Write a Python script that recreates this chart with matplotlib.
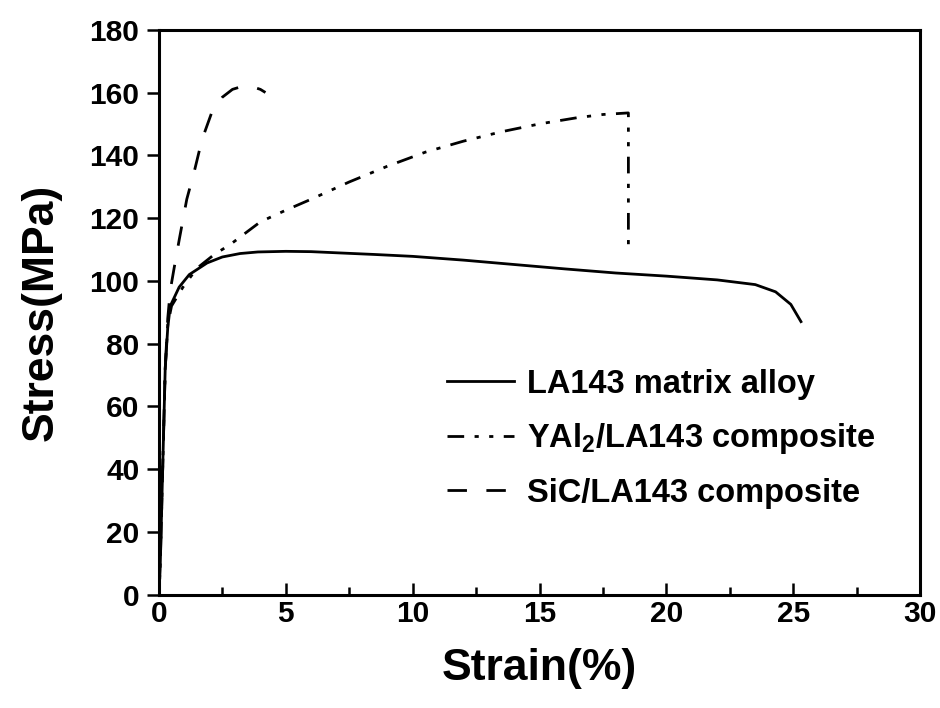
import matplotlib
matplotlib.use("Agg")
import matplotlib.pyplot as plt

# ---- data ----
la_strain = [0, 0.05, 0.15, 0.25, 0.35, 0.45, 0.8, 1.2, 1.9, 2.5, 3.2, 3.9, 5.0, 6.0, 7.1, 8.5,
             10.0, 12.0, 14.0, 16.0, 18.0, 20.0, 22.0, 23.5, 24.3, 24.9, 25.3]
la_stress = [0, 8, 40, 72, 85, 92, 98, 102, 105.7, 107.6, 108.7, 109.2, 109.4, 109.3, 108.9, 108.4,
             107.8, 106.6, 105.2, 103.8, 102.5, 101.5, 100.3, 98.8, 96.5, 92.5, 87]

yal_strain = [0, 0.05, 0.15, 0.25, 0.35, 0.5, 0.95, 1.5, 2.2, 2.8, 4.0, 5.0, 6.0, 7.5, 9.0, 10.5,
              12.0, 13.5, 15.0, 16.5, 17.5, 18.5, 18.5]
yal_stress = [0, 8, 40, 72, 86, 92, 98, 104, 108.5, 111.5, 118.8, 122.5, 126, 131.5, 136.5, 141,
              144.5, 147.5, 150, 152, 153, 153.5, 111]

sic_strain = [0, 0.05, 0.15, 0.25, 0.35, 0.45, 0.6, 0.8, 1.1, 1.4, 1.7, 2.1, 2.5, 2.9, 3.3, 3.7, 4.0, 4.2]
sic_stress = [0, 8, 40, 72, 88, 97, 104, 113, 126, 135, 145, 154, 158.5, 161, 162, 161.8, 161, 160]

labels = ["LA143 matrix alloy", "YAl$_2$/LA143 composite", "SiC/LA143 composite"]
xticks = [0, 5, 10, 15, 20, 25, 30]
yticks = list(range(0, 181, 20))

plt.rcParams['font.family'] = ['Liberation Sans', 'DejaVu Sans']
plt.rcParams['font.weight'] = 'bold'
plt.rcParams['mathtext.fontset'] = 'custom'
plt.rcParams['mathtext.rm'] = 'Liberation Sans:bold'
plt.rcParams['mathtext.default'] = 'rm'
plt.rcParams['lines.scale_dashes'] = False

fig = plt.figure(figsize=(9.4, 7.08), dpi=100)
ax = fig.add_axes([0.169, 0.160, 0.810, 0.798])

lw = 2.0
ax.plot(la_strain, la_stress, color='black', lw=lw, label=labels[0])
ax.plot(yal_strain, yal_stress, color='black', lw=lw, dashes=(12, 7.5, 3, 7.5, 3, 7.5), label=labels[1])
ax.plot(sic_strain, sic_stress, color='black', lw=lw, dashes=(14, 14), label=labels[2])

ax.set_xlim(0, 30)
ax.set_ylim(0, 180)
ax.set_xticks(xticks)
ax.set_xticks([2.5 + 5 * i for i in range(6)], minor=True)
ax.set_yticks(yticks)

for s in ax.spines.values():
    s.set_linewidth(2.2)

ax.tick_params(axis='x', which='major', direction='in', length=8.5, width=1.8, labelsize=21.5, pad=4)
ax.tick_params(axis='x', which='minor', direction='in', length=5.5, width=1.8)
ax.tick_params(axis='y', which='major', direction='out', length=9, width=1.8, labelsize=21.5, pad=5)
ax.tick_params(top=False, right=False)

ax.set_xlabel("Strain(%)", fontsize=32, fontweight='bold', labelpad=14)
ax.set_ylabel("Stress(MPa)", fontsize=32, fontweight='bold', labelpad=20)

leg = ax.legend(loc='center left', bbox_to_anchor=(0.34, 0.276), frameon=False,
                fontsize=23.5, handlelength=2.05, handletextpad=0.4, labelspacing=0.66)
for t in leg.get_texts():
    t.set_fontweight('bold')

fig.savefig("out.png", dpi=100)
